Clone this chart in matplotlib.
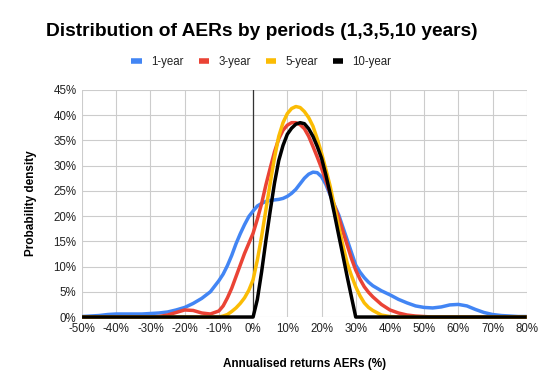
import matplotlib.pyplot as plt
from matplotlib.ticker import FuncFormatter

plt.rcParams['font.family'] = ['Liberation Sans', 'DejaVu Sans']

# annualised return (%): 2.5% steps on the tails, 1.25% steps in the middle
returns = ([-50, -47.5, -45, -42.5, -40, -37.5, -35, -32.5, -30, -27.5,
            -25, -22.5, -20, -17.5, -15, -12.5, -10]
           + [-8.75, -7.5, -6.25, -5, -3.75, -2.5, -1.25, 0,
              1.25, 2.5, 3.75, 5, 6.25, 7.5, 8.75, 10,
              11.25, 12.5, 13.75, 15, 16.25, 17.5, 18.75, 20,
              21.25, 22.5, 23.75, 25, 26.25, 27.5, 28.75, 30,
              31.25, 32.5, 33.75, 35]
           + [37.5, 40, 42.5, 45, 47.5, 50, 52.5, 55, 57.5, 60,
              62.5, 65, 67.5, 70, 72.5, 75, 77.5, 80])

# probability density (%)
year1 = ([0.1, 0.2, 0.3, 0.5, 0.6, 0.6, 0.6, 0.6, 0.7, 0.8,
          1.0, 1.4, 1.9, 2.7, 3.7, 5.0, 7.2]
         + [8.5, 10.2, 12.2, 14.5, 16.5, 18.3, 19.9, 21.0,
            22.0, 22.5, 22.9, 23.1, 23.2, 23.3, 23.5, 23.9,
            24.5, 25.3, 26.4, 27.5, 28.3, 28.7, 28.6, 27.8,
            26.3, 24.2, 22.2, 20.3, 17.8, 15.3, 12.8, 10.3,
            8.9, 7.8, 6.9, 6.2]
         + [5.2, 4.4, 3.5, 2.8, 2.2, 1.9, 1.8, 2.0, 2.4, 2.5,
            2.2, 1.5, 0.9, 0.5, 0.3, 0.2, 0.1, 0.1])
year3 = ([0, 0, 0, 0, 0, 0, 0, 0, 0, 0.1,
          0.4, 0.9, 1.4, 1.3, 0.8, 0.6, 1.2]
         + [2.2, 3.8, 5.7, 8.0, 10.3, 12.6, 14.6, 16.6,
            19.4, 22.5, 26.2, 29.5, 32.7, 35.3, 37.0, 38.0,
            38.5, 38.5, 38.1, 37.3, 35.8, 33.8, 31.7, 29.5,
            27.0, 24.5, 22.1, 19.8, 17.0, 14.3, 11.6, 9.3,
            7.5, 6.0, 4.9, 4.0]
         + [2.5, 1.4, 0.8, 0.4, 0.2, 0.1, 0, 0, 0, 0,
            0, 0, 0, 0, 0, 0, 0, 0])
year5 = ([0, 0, 0, 0, 0, 0, 0, 0, 0, 0,
          0, 0, 0, 0, 0, 0, 0]
         + [0.2, 0.5, 1.1, 1.8, 2.7, 3.8, 5.3, 7.4,
            11.3, 16.0, 21.3, 26.5, 31.5, 35.8, 38.5, 40.3,
            41.3, 41.7, 41.5, 40.7, 39.5, 37.8, 35.3, 32.5,
            29.3, 26.0, 22.0, 18.0, 14.2, 10.7, 8.2, 6.0,
            4.2, 2.8, 1.9, 1.3]
         + [0.4, 0.1, 0, 0, 0, 0, 0, 0, 0, 0,
            0, 0, 0, 0, 0, 0, 0, 0])
year10 = ([0, 0, 0, 0, 0, 0, 0, 0, 0, 0,
           0, 0, 0, 0, 0, 0, 0]
          + [0, 0, 0, 0, 0, 0, 0, 0,
             3.5, 9.0, 15.2, 21.0, 26.5, 31.0, 34.0, 36.2,
             37.4, 38.2, 38.5, 38.3, 37.3, 35.8, 33.8, 31.5,
             28.2, 24.5, 20.5, 16.3, 12.2, 8.0, 4.0, 0,
             0, 0, 0, 0]
          + [0, 0, 0, 0, 0, 0, 0, 0, 0, 0,
             0, 0, 0, 0, 0, 0, 0, 0])

series = [('1-year', year1, '#4285F4'),
          ('3-year', year3, '#EA4335'),
          ('5-year', year5, '#FBBC04'),
          ('10-year', year10, '#000000')]

x_ticks = list(range(-50, 81, 10))
y_ticks = list(range(0, 46, 5))

fig = plt.figure(figsize=(5.47, 3.89), dpi=100)
ax = fig.add_axes([0.150, 0.185, 0.813, 0.584])

for name, vals, color in series:
    ax.plot(returns, vals, color=color, lw=2.5, label=name,
            solid_joinstyle='round', solid_capstyle='butt', clip_on=False, zorder=3)

ax.axvline(0, color='#333333', lw=0.9, zorder=2)

ax.set_xlim(-50, 80)
ax.set_ylim(0, 45)
ax.set_xticks(x_ticks)
ax.set_yticks(y_ticks)
pct = FuncFormatter(lambda v, pos: f'{v:.0f}%')
ax.xaxis.set_major_formatter(pct)
ax.yaxis.set_major_formatter(pct)
ax.tick_params(length=0, labelsize=8.3, colors='#222222', pad=4)
ax.grid(True, color='#cccccc', lw=0.8)
ax.set_axisbelow(True)
for s in ax.spines.values():
    s.set_visible(False)

ax.set_xlabel('Annualised returns AERs (%)', fontsize=8.5, fontweight='bold', labelpad=17)
ax.set_ylabel('Probability density', fontsize=8.5, fontweight='bold', labelpad=12)

fig.text(0.478, 0.918, 'Distribution of AERs by periods (1,3,5,10 years)',
         ha='center', va='center', fontsize=13.8, fontweight='bold')

leg = fig.legend(loc='center', bbox_to_anchor=(0.478, 0.84), ncol=4, frameon=False,
                 fontsize=8.3, handlelength=0.9, handletextpad=0.8, columnspacing=1.3)
for h in leg.legend_handles:
    h.set_linewidth(4)
for t in leg.get_texts():
    t.set_color('#222222')

fig.savefig('out.png', dpi=100)
